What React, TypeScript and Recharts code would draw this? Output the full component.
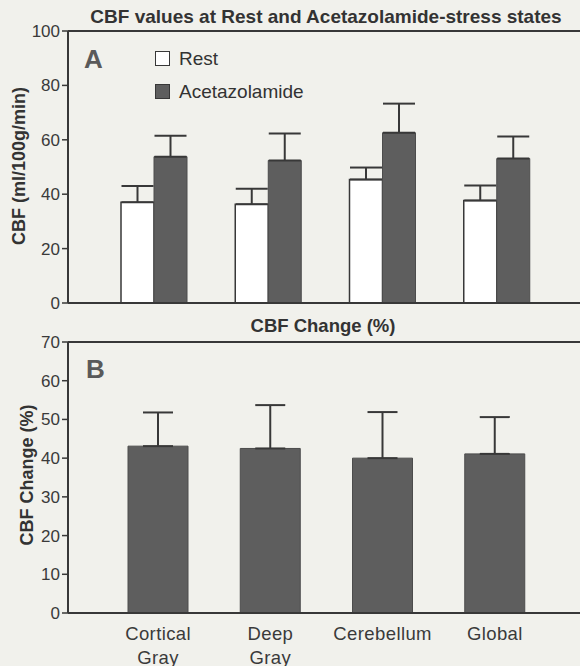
import React from "react";
import { Bar, BarChart, ErrorBar, Legend, ReferenceLine, XAxis, YAxis } from "recharts";

const regions = ["Cortical\nGray", "Deep\nGray", "Cerebellum", "Global"];
const seriesNames = ["Rest", "Acetazolamide"];
const restMean = [37.0, 36.3, 45.4, 37.7];
const restSd = [6.0, 5.7, 4.4, 5.5];
const acetMean = [53.8, 52.4, 62.6, 53.1];
const acetSd = [7.7, 9.9, 10.7, 8.1];
const changeMean = [43.1, 42.5, 40.0, 41.1];
const changeSd = [8.7, 11.2, 11.9, 9.5];
const cbfTicks = [0, 20, 40, 60, 80, 100];
const changeTicks = [0, 10, 20, 30, 40, 50, 60, 70];

const FONT = "'Liberation Sans', Arial, Helvetica, sans-serif";
const INK = "#383838";
const DARK = "#5e5e5e";
const PAPER = "#f1f1ec";

// upper-only error bars: [below, above]
const cbfRows = regions.map((region, i) => ({
  region,
  rest: restMean[i],
  restErr: [0, restSd[i]],
  acet: acetMean[i],
  acetErr: [0, acetSd[i]],
}));

const changeRows = regions.map((region, i) => ({
  region,
  change: changeMean[i],
  changeErr: [0, changeSd[i]],
}));

const tickStyle = { fill: "#3a3a3a", fontSize: 17, fontFamily: FONT };

function RegionTick(props: any) {
  const { x, y, payload } = props;
  const lines = String(payload.value).split("\n");
  return (
    <text x={x} y={y + 27} textAnchor="middle" fill="#3a3a3a" fontSize={18.5} fontFamily={FONT} letterSpacing={0.4}>
      {lines.map((ln, i) => (
        <tspan key={i} x={x} dy={i === 0 ? 0 : 23.5}>
          {ln}
        </tspan>
      ))}
    </text>
  );
}

function LegendBox(props: any) {
  const items = [...(props.payload || [])].sort(
    (a: any, b: any) => seriesNames.indexOf(a.value) - seriesNames.indexOf(b.value)
  );
  return (
    <div style={{ fontFamily: FONT, fontSize: 19, color: "#333" }}>
      {items.map((it: any) => (
        <div key={it.value} style={{ display: "flex", alignItems: "center", height: 33 }}>
          <span
            style={{
              display: "inline-block",
              width: 13,
              height: 13,
              marginRight: 9,
              background: it.color,
              border: `1.5px solid ${INK}`,
            }}
          />
          <span>{it.value}</span>
        </div>
      ))}
    </div>
  );
}

const rotLabel = (text: string, cx: number, cy: number) => () =>
  (
    <text
      x={cx}
      y={cy}
      transform={`rotate(-90 ${cx} ${cy})`}
      textAnchor="middle"
      dominantBaseline="central"
      fontSize={18}
      fontWeight="bold"
      fontFamily={FONT}
      fill="#333"
    >
      {text}
    </text>
  );

const abs = (extra: React.CSSProperties): React.CSSProperties => ({
  position: "absolute",
  fontFamily: FONT,
  whiteSpace: "nowrap",
  ...extra,
});

export default function App() {
  return (
    <div style={{ position: "absolute", left: 0, top: 0, width: 580, height: 666, background: PAPER, overflow: "hidden" }}>
      <div style={abs({ left: 326, top: 6.6, transform: "translateX(-50%)", fontSize: 19, lineHeight: "19px", fontWeight: "bold", color: "#333" })}>
        CBF values at Rest and Acetazolamide-stress states
      </div>
      <div style={abs({ left: 84, top: 46, fontSize: 26, lineHeight: "26px", fontWeight: "bold", color: "#5a5a5a" })}>A</div>

      <div style={{ position: "absolute", left: 0, top: 0 }}>
        <BarChart width={580} height={320} data={cbfRows} margin={{ top: 31, right: 0, bottom: 0, left: 0 }} barGap={0}>
          <XAxis
            dataKey="region"
            height={17}
            tick={false}
            tickLine={false}
            padding={{ left: 29, right: 26 }}
            axisLine={{ stroke: INK, strokeWidth: 2 }}
          />
          <YAxis
            width={68}
            domain={[0, 100]}
            ticks={cbfTicks}
            tick={tickStyle}
            tickSize={6}
            tickMargin={2}
            tickLine={{ stroke: INK, strokeWidth: 1.5 }}
            axisLine={{ stroke: INK, strokeWidth: 2 }}
            label={{ content: rotLabel("CBF (ml/100g/min)", 19, 166) }}
          />
          <ReferenceLine y={100} stroke={INK} strokeWidth={2} />
          <Legend
            layout="vertical"
            align="center"
            verticalAlign="middle"
            content={LegendBox}
            wrapperStyle={{ left: 155, top: 42, width: "auto" }}
          />
          <Bar dataKey="rest" name={seriesNames[0]} fill="#ffffff" stroke={INK} strokeWidth={1.5} barSize={33} isAnimationActive={false}>
            <ErrorBar dataKey="restErr" width={16} stroke={INK} strokeWidth={2} direction="y" />
          </Bar>
          <Bar dataKey="acet" name={seriesNames[1]} fill={DARK} stroke="#4c4c4c" strokeWidth={1} barSize={33} isAnimationActive={false}>
            <ErrorBar dataKey="acetErr" width={16} stroke={INK} strokeWidth={2} direction="y" />
          </Bar>
        </BarChart>
      </div>

      <div style={abs({ left: 323, top: 317.3, transform: "translateX(-50%)", fontSize: 18.5, lineHeight: "18.5px", fontWeight: "bold", color: "#333" })}>
        CBF Change (%)
      </div>
      <div style={abs({ left: 86, top: 356, fontSize: 26, lineHeight: "26px", fontWeight: "bold", color: "#5a5a5a", zIndex: 2 })}>B</div>

      <div style={{ position: "absolute", left: 0, top: 320 }}>
        <BarChart width={580} height={346} data={changeRows} margin={{ top: 22, right: 0, bottom: 0, left: 0 }}>
          <XAxis
            dataKey="region"
            height={53}
            interval={0}
            tick={<RegionTick />}
            tickLine={false}
            tickSize={0}
            tickMargin={0}
            padding={{ left: 34, right: 29 }}
            axisLine={{ stroke: INK, strokeWidth: 2 }}
          />
          <YAxis
            width={68}
            domain={[0, 70]}
            ticks={changeTicks}
            tick={tickStyle}
            tickSize={6}
            tickMargin={2}
            tickLine={{ stroke: INK, strokeWidth: 1.5 }}
            axisLine={{ stroke: INK, strokeWidth: 2 }}
            label={{ content: rotLabel("CBF Change (%)", 27, 155) }}
          />
          <ReferenceLine y={70} stroke={INK} strokeWidth={2} />
          <Bar dataKey="change" fill={DARK} stroke="#4c4c4c" strokeWidth={1} barSize={60} isAnimationActive={false}>
            <ErrorBar dataKey="changeErr" width={15} stroke={INK} strokeWidth={2} direction="y" />
          </Bar>
        </BarChart>
      </div>
    </div>
  );
}
